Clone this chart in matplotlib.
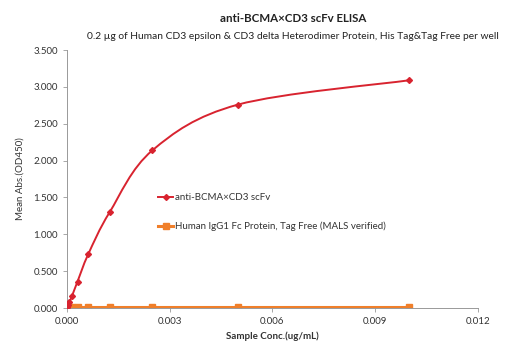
import numpy as np
import matplotlib
matplotlib.use("Agg")
import matplotlib.pyplot as plt
from matplotlib.path import Path
from matplotlib.patches import PathPatch
from matplotlib.lines import Line2D

plt.rcParams['font.family'] = ['Lato', 'DejaVu Sans']

# 2-fold serial dilution (ug/mL)
conc = [0.01, 0.005, 0.0025, 0.00125, 0.000625, 0.0003125,
        0.00015625, 0.000078, 0.000039, 0.0000195, 0.0000098]
od_bcma = [3.09, 2.76, 2.14, 1.30, 0.73, 0.36, 0.17, 0.08, 0.04, 0.02, 0.01]
od_igg = [0.01, 0.01, 0.01, 0.01, 0.01, 0.01, 0.01, 0.01, 0.01, 0.01, 0.01]

xticks = [0.0, 0.003, 0.006, 0.009, 0.012]
yticks = [0.0, 0.5, 1.0, 1.5, 2.0, 2.5, 3.0, 3.5]

red = '#D8232F'
orange = '#F07F2A'


def smooth_path(x, y):
    # Excel-like smoothed line: cubic Bezier through the points
    p = np.column_stack([x, y])[::-1]
    verts = [p[0]]
    codes = [Path.MOVETO]
    n = len(p)
    for i in range(n - 1):
        p0 = p[max(i - 1, 0)]
        p3 = p[min(i + 2, n - 1)]
        c1 = p[i] + (p[i + 1] - p0) / 6.0
        c2 = p[i + 1] - (p3 - p[i]) / 6.0
        verts += [c1, c2, p[i + 1]]
        codes += [Path.CURVE4] * 3
    return Path(verts, codes)


fig = plt.figure(figsize=(5.1, 3.45), dpi=100)
ax = fig.add_axes([0.131, 0.107, 0.806, 0.748])

ax.plot(conc, od_igg, color=orange, linewidth=2.2, marker='s',
        markersize=4.5, zorder=2)
ax.add_patch(PathPatch(smooth_path(conc, od_bcma), facecolor='none',
                       edgecolor=red, linewidth=1.4, zorder=3))
ax.plot(conc, od_bcma, linestyle='none', color=red, marker='D',
        markersize=3, zorder=4)

ax.set_xlim(0, 0.012)
ax.set_ylim(0, 3.5)
ax.set_xticks(xticks)
ax.set_yticks(yticks)
ax.set_xticklabels(['%.3f' % v for v in xticks], fontsize=7, color='#333333')
ax.set_yticklabels(['%.3f' % v for v in yticks], fontsize=7, color='#333333')
ax.tick_params(length=3, width=0.6, color='#999999', direction='out')
for s in ['top', 'right']:
    ax.spines[s].set_visible(False)
for s in ['left', 'bottom']:
    ax.spines[s].set_color('#999999')
    ax.spines[s].set_linewidth(0.7)

ax.set_xlabel('Sample Conc.(ug/mL)', fontsize=7, fontweight='bold', color='#333333', labelpad=4)
ax.set_ylabel('Mean Abs.(OD450)', fontsize=7, color='#333333', labelpad=6)

fig.text(0.575, 0.945, 'anti-BCMA\u00d7CD3 scFv ELISA', ha='center', va='center',
         fontsize=8.3, fontweight='bold', color='#222222')
fig.text(0.575, 0.893, '0.2 \u00b5g of Human CD3 epsilon & CD3 delta Heterodimer Protein, His Tag&Tag Free per well',
         ha='center', va='center', fontsize=7.4, color='#222222')

handles = [
    Line2D([], [], color=red, linewidth=1.4, marker='D', markersize=3),
    Line2D([], [], color=orange, linewidth=2.2, marker='s', markersize=4),
]
labels = ['anti-BCMA\u00d7CD3 scFv', 'Human IgG1 Fc Protein, Tag Free (MALS verified)']
ax.legend(handles, labels, loc='upper left', bbox_to_anchor=(0.2, 0.48),
          frameon=False, fontsize=7, labelspacing=2.0, handlelength=1.6,
          handletextpad=0.2, labelcolor='#333333')

fig.savefig('out.png', dpi=100)
